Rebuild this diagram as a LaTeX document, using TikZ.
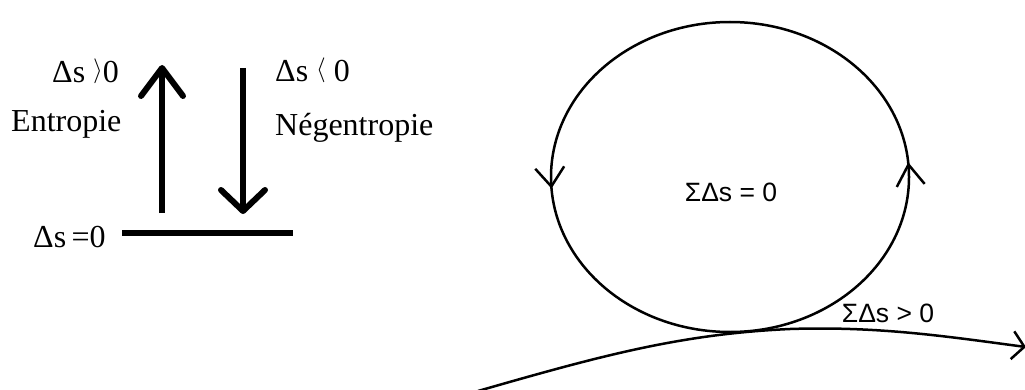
\documentclass[tikz,border=0pt]{standalone}
\usepackage{fontspec}
\setmainfont{Liberation Serif}
\newfontfamily\sumfont{Liberation Sans}
\usetikzlibrary{arrows.meta, decorations.markings}
\newcommand{\gtang}{\raisebox{0.18em}{$\rangle$}}
\newcommand{\ltang}{\raisebox{0.18em}{$\langle$}}
\tikzset{
  bar/.style={line width=6pt},
  upbarb/.style={-{Straight Barb[length=28pt, width=42pt, round]}},
  downbarb/.style={-{Straight Barb[length=21pt, width=44pt, round]}},
  lbl/.style={anchor=base west, inner sep=0pt, font=\fontsize{32}{36}\selectfont},
  sumlbl/.style={inner sep=0pt, font=\sumfont\fontsize{26.5}{30}\selectfont},
  thinline/.style={line width=2.5pt},
  loopline/.style={thinline, decoration={markings,
      mark=at position 0.014 with {\arrow{Straight Barb[length=21pt, width=28pt]}},
      mark=at position 0.511 with {\arrow{Straight Barb[length=19pt, width=29pt]}}},
    postaction={decorate}}
}
\begin{document}
\begin{tikzpicture}[x=1pt, y=1pt]
\useasboundingbox (0,0) rectangle (1025,389);

%% ── Levels and arrows ──────────────────────────────────
\coordinate (zeroL)    at (122,156);
\coordinate (zeroR)    at (293,156);
\coordinate (upFoot)   at (162,176);
\coordinate (upHead)   at (162,324);
\coordinate (downTop)  at (243,321);
\coordinate (downHead) at (243,175);

\draw[bar] (zeroL) -- (zeroR);
\draw[bar, upbarb]   (upFoot)  -- (upHead);
\draw[bar, downbarb] (downTop) -- (downHead);

%% ── Labels ─────────────────────────────────────────────
\node[lbl] (posds)    at ( 52,306) {Δs \gtang0};
\node[lbl] (entro)    at ( 11,258) {Entropie};
\node[lbl] (zerods)   at ( 33,142) {Δs\,=0};
\node[lbl] (negds)    at (275,307) {Δs \ltang\ 0};
\node[lbl] (negentro) at (275,254) {Négentropie};

%% ── Cycle and drift ────────────────────────────────────
\coordinate (loop) at (730,212);
\draw[loopline] (loop) ellipse [x radius=179pt, y radius=155pt];
\node[sumlbl] (loopsum) at (731,197) {ΣΔs = 0};

\coordinate (driftStart) at (478,-2);
\coordinate (driftEnd)   at (1026,42);
\draw[thinline, -{Straight Barb[length=12pt, width=28pt]}]
  (driftStart) .. controls (600,33) and (680,55) .. (790,60)
  .. controls (880,63) and (950,52) .. (driftEnd);
\node[sumlbl] (driftsum) at (888,76) {ΣΔs > 0};

\end{tikzpicture}
\end{document}
